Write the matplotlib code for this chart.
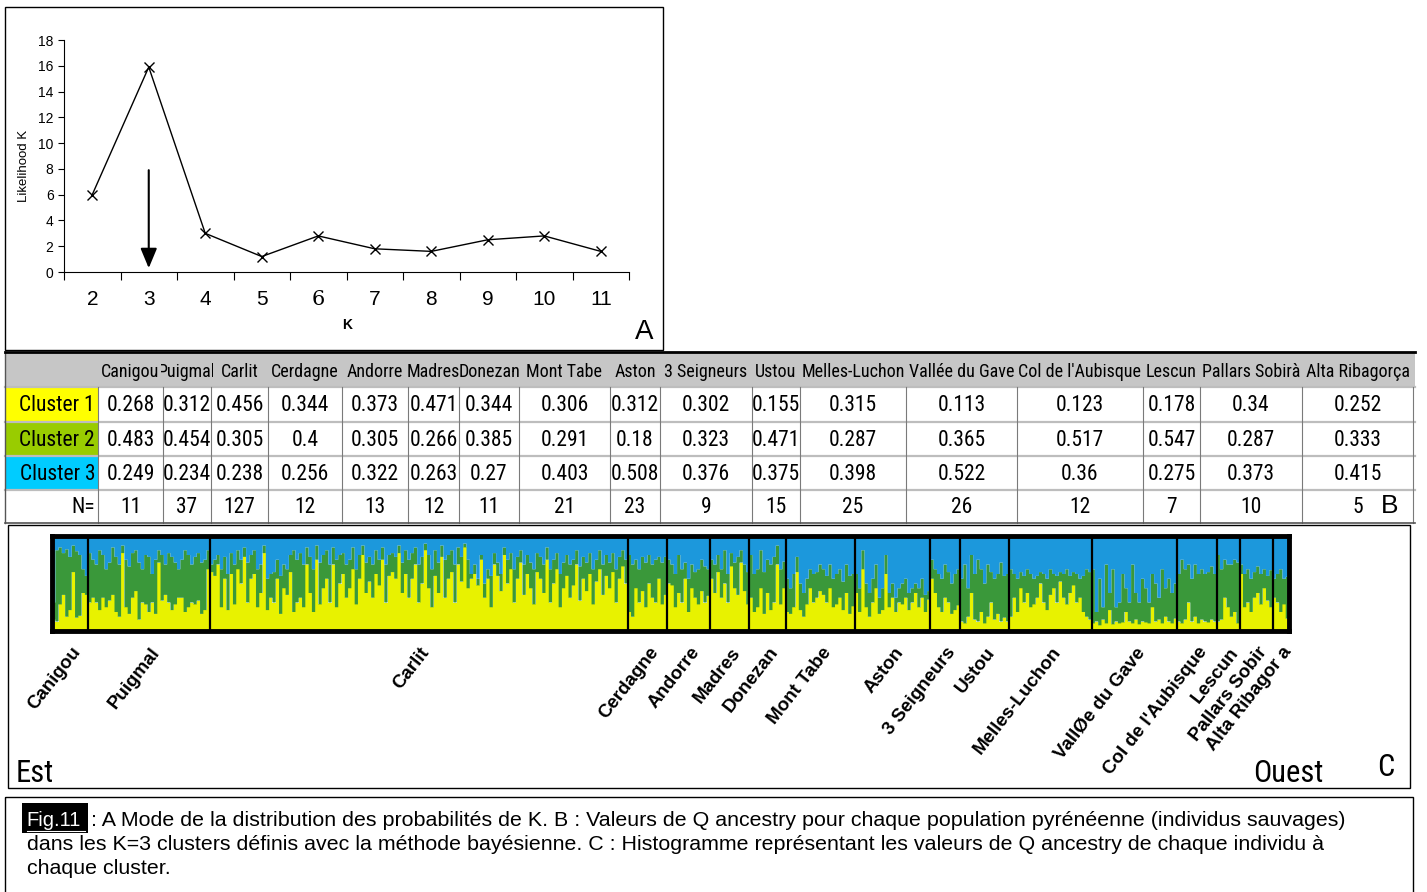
import numpy as np
import matplotlib
matplotlib.use('Agg')
import matplotlib.pyplot as plt
from matplotlib.patches import Rectangle
from matplotlib.transforms import Bbox
from matplotlib import font_manager
from matplotlib.font_manager import FontProperties

W, H = 1427, 892

##################
# A : likelihood of K
k_values = [2, 3, 4, 5, 6, 7, 8, 9, 10, 11]
likelihood = [6.0, 15.9, 3.0, 1.2, 2.8, 1.8, 1.6, 2.5, 2.8, 1.6]
best_k = 3

# B : mean Q per population
pops = ['Canigou', 'Puigmal', 'Carlit', 'Cerdagne', 'Andorre', 'Madres', 'Donezan',
        'Mont Tabe', 'Aston', '3 Seigneurs', 'Ustou', 'Melles-Luchon', 'Vallée du Gave',
        "Col de l'Aubisque", 'Lescun', 'Pallars Sobirà', 'Alta Ribagorça']
cluster1 = [0.268, 0.312, 0.456, 0.344, 0.373, 0.471, 0.344, 0.306, 0.312, 0.302,
            0.155, 0.315, 0.113, 0.123, 0.178, 0.34, 0.252]
cluster2 = [0.483, 0.454, 0.305, 0.4, 0.305, 0.266, 0.385, 0.291, 0.18, 0.323,
            0.471, 0.287, 0.365, 0.517, 0.547, 0.287, 0.333]
cluster3 = [0.249, 0.234, 0.238, 0.256, 0.322, 0.263, 0.27, 0.403, 0.508, 0.376,
            0.375, 0.398, 0.522, 0.36, 0.275, 0.373, 0.415]
n_ind = [11, 37, 127, 12, 13, 12, 11, 21, 23, 9, 15, 25, 26, 12, 7, 10, 5]

# C : individual Q (yellow = cluster 1, blue = cluster 3, green = the rest)
plot_labels = ['Canigou', 'Puigmal', 'Carlit', 'Cerdagne', 'Andorre', 'Madres', 'Donezan',
               'Mont Tabe', 'Aston', '3 Seigneurs', 'Ustou', 'Melles-Luchon', 'VallØe du Gave',
               "Col de l'Aubisque", 'Lescun', 'Pallars Sobir', 'Alta Ribagor a']
q1_ind = [
    [0.12, 0.10, 0.28, 0.38, 0.15, 0.22, 0.62, 0.14, 0.16, 0.40, 0.38],
    [0.30, 0.35, 0.30, 0.22, 0.35, 0.25, 0.32, 0.38, 0.20, 0.15, 0.82, 0.25, 0.18, 0.35, 0.42,
     0.12, 0.30, 0.28, 0.20, 0.30, 0.18, 0.72, 0.32, 0.38, 0.30, 0.22, 0.28, 0.35, 0.35, 0.20,
     0.25, 0.30, 0.28, 0.32, 0.18, 0.22, 0.65],
    [0.62, 0.58, 0.70, 0.25, 0.55, 0.22, 0.60, 0.28, 0.65, 0.50,
     0.78, 0.30, 0.55, 0.60, 0.25, 0.40, 0.82, 0.22, 0.35, 0.30,
     0.55, 0.18, 0.45, 0.38, 0.62, 0.20, 0.30, 0.35, 0.25, 0.70,
     0.40, 0.20, 0.75, 0.28, 0.45, 0.55, 0.30, 0.70, 0.25, 0.50,
     0.60, 0.35, 0.45, 0.65, 0.28, 0.55, 0.80, 0.40, 0.52, 0.35,
     0.60, 0.48, 0.75, 0.30, 0.58, 0.62, 0.55, 0.82, 0.40, 0.60,
     0.35, 0.55, 0.70, 0.30, 0.50, 0.85, 0.45, 0.25, 0.58, 0.40,
     0.78, 0.35, 0.55, 0.62, 0.30, 0.70, 0.52, 0.88, 0.45, 0.55,
     0.60, 0.48, 0.75, 0.35, 0.55, 0.25, 0.70, 0.58, 0.42, 0.80,
     0.50, 0.65, 0.30, 0.55, 0.72, 0.38, 0.60, 0.45, 0.28, 0.62,
     0.55, 0.40, 0.75, 0.30, 0.50, 0.65, 0.25, 0.45, 0.58, 0.35,
     0.48, 0.70, 0.32, 0.55, 0.42, 0.60, 0.28, 0.52, 0.65, 0.38,
     0.58, 0.45, 0.62, 0.30, 0.55, 0.68, 0.50],
    [0.20, 0.15, 0.45, 0.30, 0.42, 0.25, 0.50, 0.35, 0.30, 0.55, 0.28, 0.38],
    [0.50, 0.48, 0.25, 0.40, 0.30, 0.55, 0.20, 0.45, 0.35, 0.28, 0.42, 0.30, 0.37],
    [0.55, 0.40, 0.62, 0.35, 0.50, 0.30, 0.68, 0.45, 0.38, 0.72, 0.42, 0.28],
    [0.35, 0.20, 0.25, 0.45, 0.18, 0.40, 0.22, 0.30, 0.70, 0.28, 0.45],
    [0.20, 0.18, 0.25, 0.62, 0.22, 0.15, 0.28, 0.45, 0.30, 0.35, 0.42, 0.38, 0.30, 0.45,
     0.25, 0.28, 0.35, 0.22, 0.40, 0.18, 0.26],
    [0.40, 0.20, 0.65, 0.25, 0.15, 0.30, 0.45, 0.18, 0.22, 0.60, 0.25, 0.35, 0.20, 0.30,
     0.28, 0.35, 0.22, 0.30, 0.40, 0.25, 0.35, 0.20, 0.33],
    [0.55, 0.40, 0.25, 0.20, 0.35, 0.30, 0.18, 0.22, 0.27],
    [0.10, 0.08, 0.15, 0.40, 0.12, 0.10, 0.20, 0.08, 0.15, 0.30, 0.12, 0.18, 0.10, 0.14, 0.10],
    [0.15, 0.35, 0.20, 0.45, 0.30, 0.40, 0.25, 0.28, 0.35, 0.50, 0.30, 0.22, 0.38, 0.45,
     0.30, 0.52, 0.35, 0.28, 0.40, 0.48, 0.30, 0.35, 0.20, 0.15, 0.12],
    [0.08, 0.10, 0.06, 0.12, 0.08, 0.22, 0.07, 0.10, 0.08, 0.09, 0.20, 0.10, 0.08, 0.12,
     0.07, 0.10, 0.09, 0.08, 0.25, 0.10, 0.12, 0.08, 0.15, 0.10, 0.08, 0.13],
    [0.10, 0.08, 0.12, 0.30, 0.10, 0.15, 0.08, 0.12, 0.10, 0.09, 0.12, 0.10],
    [0.10, 0.12, 0.35, 0.25, 0.15, 0.20, 0.08],
    [0.60, 0.25, 0.30, 0.20, 0.35, 0.40, 0.28, 0.45, 0.32, 0.25],
    [0.35, 0.30, 0.20, 0.28, 0.13],
]
q3_ind = [
    [0.70, 0.15, 0.12, 0.18, 0.14, 0.22, 0.10, 0.16, 0.20, 0.35, 0.42],
    [0.18, 0.25, 0.30, 0.15, 0.20, 0.35, 0.28, 0.12, 0.22, 0.30, 0.10, 0.25, 0.32, 0.18, 0.15,
     0.28, 0.35, 0.20, 0.22, 0.40, 0.25, 0.15, 0.20, 0.30, 0.18, 0.22, 0.28, 0.35, 0.25, 0.15,
     0.20, 0.30, 0.22, 0.18, 0.28, 0.25, 0.15],
    [0.30, 0.25, 0.20, 0.35, 0.22, 0.40, 0.18, 0.30, 0.15, 0.25,
     0.12, 0.28, 0.20, 0.15, 0.35, 0.30, 0.10, 0.45, 0.40, 0.38,
     0.25, 0.42, 0.30, 0.35, 0.20, 0.15, 0.25, 0.18, 0.30, 0.12,
     0.22, 0.35, 0.10, 0.28, 0.20, 0.15, 0.30, 0.12, 0.25, 0.20,
     0.18, 0.30, 0.25, 0.12, 0.35, 0.20, 0.10, 0.28, 0.22, 0.30,
     0.15, 0.25, 0.12, 0.30, 0.20, 0.18, 0.22, 0.10, 0.28, 0.15,
     0.25, 0.18, 0.12, 0.30, 0.22, 0.08, 0.20, 0.35, 0.15, 0.28,
     0.10, 0.25, 0.20, 0.15, 0.30, 0.12, 0.22, 0.08, 0.25, 0.40,
     0.30, 0.45, 0.20, 0.50, 0.35, 0.42, 0.18, 0.28, 0.40, 0.12,
     0.25, 0.18, 0.35, 0.22, 0.15, 0.30, 0.20, 0.28, 0.35, 0.18,
     0.22, 0.30, 0.12, 0.35, 0.25, 0.18, 0.40, 0.28, 0.20, 0.30,
     0.25, 0.15, 0.32, 0.22, 0.28, 0.18, 0.35, 0.25, 0.15, 0.30,
     0.20, 0.28, 0.18, 0.35, 0.22, 0.15, 0.25],
    [0.20, 0.30, 0.25, 0.35, 0.22, 0.28, 0.20, 0.30, 0.25, 0.22, 0.28, 0.22],
    [0.25, 0.30, 0.40, 0.20, 0.35, 0.28, 0.45, 0.30, 0.38, 0.35, 0.25, 0.32, 0.35],
    [0.25, 0.30, 0.20, 0.35, 0.15, 0.40, 0.18, 0.28, 0.22, 0.15, 0.30, 0.38],
    [0.20, 0.40, 0.35, 0.15, 0.38, 0.25, 0.30, 0.22, 0.10, 0.35, 0.27],
    [0.45, 0.55, 0.40, 0.22, 0.50, 0.60, 0.45, 0.35, 0.40, 0.38, 0.30, 0.35, 0.42, 0.30,
     0.45, 0.40, 0.35, 0.48, 0.30, 0.42, 0.40],
    [0.40, 0.55, 0.15, 0.50, 0.60, 0.45, 0.30, 0.65, 0.55, 0.20, 0.60, 0.50, 0.65, 0.55,
     0.50, 0.45, 0.60, 0.55, 0.50, 0.55, 0.45, 0.62, 0.58],
    [0.25, 0.35, 0.40, 0.45, 0.30, 0.38, 0.50, 0.40, 0.35],
    [0.45, 0.30, 0.55, 0.20, 0.40, 0.25, 0.35, 0.50, 0.30, 0.38, 0.45, 0.40, 0.28, 0.42, 0.40],
    [0.35, 0.40, 0.45, 0.38, 0.42, 0.35, 0.40, 0.45, 0.42, 0.38, 0.40, 0.45, 0.35, 0.40,
     0.42, 0.38, 0.40, 0.35, 0.42, 0.38, 0.40, 0.45, 0.42, 0.35, 0.38],
    [0.35, 0.80, 0.45, 0.75, 0.30, 0.60, 0.35, 0.75, 0.70, 0.40, 0.55, 0.70, 0.30, 0.60,
     0.70, 0.45, 0.55, 0.70, 0.40, 0.50, 0.65, 0.35, 0.55, 0.45, 0.60, 0.50],
    [0.40, 0.25, 0.35, 0.30, 0.45, 0.30, 0.40, 0.35, 0.40, 0.38, 0.32, 0.40],
    [0.20, 0.35, 0.25, 0.30, 0.30, 0.25, 0.28],
    [0.30, 0.40, 0.35, 0.45, 0.38, 0.32, 0.40, 0.35, 0.42, 0.36],
    [0.45, 0.40, 0.35, 0.45, 0.43],
]

caption_lines = [
    ': A Mode de la distribution des probabilités de K. B : Valeurs de Q ancestry pour chaque population pyrénéenne (individus sauvages)',
    'dans les K=3 clusters définis avec la méthode bayésienne. C : Histogramme représentant les valeurs de Q ancestry de chaque individu à',
    'chaque cluster.',
]

##################
# fonts : look for a narrow / condensed face for the table (Arial Narrow look)
names = {f.name for f in font_manager.fontManager.ttflist}
SANS = 'Liberation Sans' if 'Liberation Sans' in names else 'DejaVu Sans'


def pick_narrow():
    good = []
    for f in font_manager.fontManager.ttflist:
        cond = ('Narrow' in f.name or 'Condensed' in f.name
                or str(f.stretch) in ('condensed', 'semi-condensed', 'extra-condensed'))
        if cond and f.style == 'normal' and f.weight in (400, 'normal', 'regular', 'book'):
            rank = 0 if 'Liberation' in f.name else 1 if 'Roboto' in f.name else 2
            good.append((rank, f.fname))
    if good:
        good.sort()
        return FontProperties(fname=good[0][1]), 1.0
    return FontProperties(family=SANS), 0.8


NARROW, nscale = pick_narrow()

cl_colors = ['#FFFF00', '#99CC00', '#00CCFF']
q_colors = ['#E8F200', '#3A983A', '#1C98DC']

fig = plt.figure(figsize=(W / 100, H / 100), dpi=100)

# overlay axes in pixel units (y down)
ax0 = fig.add_axes([0, 0, 1, 1])
ax0.set_xlim(0, W)
ax0.set_ylim(H, 0)
ax0.axis('off')


def px_rect(left, top, w, h):
    return [left / W, 1 - (top + h) / H, w / W, h / H]


def clipbox(x0, y0, x1, y1):
    pts = ax0.transData.transform([[x0, y0], [x1, y1]])
    return Bbox.from_extents(pts[:, 0].min(), pts[:, 1].min(), pts[:, 0].max(), pts[:, 1].max())


def ntext(x, y, s, size, **kw):
    fp = NARROW.copy()
    fp.set_size(size * nscale)
    return ax0.text(x, y, s, fontproperties=fp, **kw)


##################
# panel A
ax0.add_patch(Rectangle((5, 7), 658, 343, fill=False, ec='black', lw=1))
axA = fig.add_axes(px_rect(64, 40, 565, 232))
xk = np.arange(len(k_values))
axA.plot(xk, likelihood, color='black', lw=1, marker='x', ms=7, mew=1)
axA.set_xlim(-0.5, len(k_values) - 0.5)
axA.set_ylim(0, 18)
axA.set_yticks(np.arange(0, 19, 2))
axA.set_xticks(xk)
axA.set_xticklabels([str(k) for k in k_values], fontsize=15, family=SANS)
axA.set_xticks(np.arange(-0.5, len(k_values)), minor=True)
axA.tick_params(axis='x', which='major', length=0, pad=13)
axA.tick_params(axis='x', which='minor', length=6, width=0.8)
axA.tick_params(axis='y', labelsize=10, length=4, width=0.8)
for t in axA.get_yticklabels():
    t.set_family(SANS)
axA.get_xticklabels()[k_values.index(6)].set_family('DejaVu Serif')
for s in ['top', 'right']:
    axA.spines[s].set_visible(False)
for s in ['left', 'bottom']:
    axA.spines[s].set_linewidth(0.8)
ib = k_values.index(best_k)
axA.annotate('', xy=(ib, 0.3), xytext=(ib, 7.9),
             arrowprops=dict(arrowstyle='-|>,head_length=1.2,head_width=0.5',
                             color='black', lw=1.5, shrinkA=0, shrinkB=0))
ax0.text(24, 166, 'Likelihood K', rotation=90, ha='center', va='center', fontsize=9.5, family=SANS)
ax0.text(347, 325, 'K', ha='center', va='center', fontsize=10, fontweight='bold', family=SANS)
ax0.text(644, 332, 'A', ha='center', va='center', fontsize=20, family=SANS)

##################
# panel B : table
col_edges = [5, 98, 163, 211, 268, 342, 408, 459, 519, 610, 660, 752, 800, 906,
             1017, 1143, 1200, 1302, 1413]
row_edges = [352, 387, 422, 456, 490, 523]
ax0.add_patch(Rectangle((5, 352), 1410, 35, fc='#C6C6C6', ec='none'))
rows = [cluster1, cluster2, cluster3]
row_names = ['Cluster 1', 'Cluster 2', 'Cluster 3', 'N=']
for r in range(4):
    y0, y1 = row_edges[r + 1], row_edges[r + 2]
    yc = (y0 + y1) / 2 + 1
    if r < 3:
        ax0.add_patch(Rectangle((5, y0), col_edges[1] - 5, y1 - y0, fc=cl_colors[r], ec='none'))
    ntext(col_edges[1] - 3, yc, row_names[r], 15.5, ha='right', va='center')
    for c in range(len(pops)):
        xc = (col_edges[c + 1] + col_edges[c + 2]) / 2
        val = f'{rows[r][c]:g}' if r < 3 else str(n_ind[c])
        ntext(xc, yc, val, 15.5, ha='center', va='center')
ax0.text(1390, 506, 'B', ha='center', va='center', fontsize=19, family=SANS)
# header names: centred in their cell and cut near the cell edges, as in the spreadsheet
for c, name in enumerate(pops):
    x0, x1 = col_edges[c + 1], col_edges[c + 2]
    t = ntext((x0 + x1) / 2, 372, name, 13, ha='center', va='center')
    t.set_clip_box(clipbox(x0 - 2, 352, x1 + 2, 387))
    t.set_clip_on(True)
for y in row_edges[1:-1]:
    ax0.plot([5, 1415], [y, y], color='#BDBDBD', lw=1.6)
for x in col_edges[1:]:
    ax0.plot([x, x], [387, 523], color='#7A7A7A', lw=0.8)
ax0.plot([5, 5], [352, 523], color='#555555', lw=1)
ax0.plot([5, 1415], [523, 523], color='#555555', lw=1.2)
ax0.plot([5, 1415], [352, 352], color='black', lw=2)

##################
# panel C : individual Q ancestry
ax0.add_patch(Rectangle((8, 525), 1402, 263, fill=False, ec='black', lw=1))
q1 = np.concatenate([np.asarray(v) for v in q1_ind])
q3 = np.concatenate([np.asarray(v) for v in q3_ind])
ntot = len(q1)
edges = np.arange(ntot + 1)
axC = fig.add_axes(px_rect(52, 536, 1237, 95))
axC.stairs(q1, edges, baseline=0, fill=True, color=q_colors[0], lw=0)
axC.stairs(1 - q3, edges, baseline=q1, fill=True, color=q_colors[1], lw=0)
axC.stairs(np.ones(ntot), edges, baseline=1 - q3, fill=True, color=q_colors[2], lw=0)
bounds = np.cumsum(n_ind)
axC.vlines(bounds[:-1], 0, 1, color='black', lw=1.6)
axC.set_xlim(0, ntot)
axC.set_ylim(0, 1)
axC.set_xticks([])
axC.set_yticks([])
for s in axC.spines.values():
    s.set_linewidth(3.5)
starts = bounds - np.asarray(n_ind)
for lab, st, n in zip(plot_labels, starts, n_ind):
    xc = 52 + (st + n / 2) / ntot * 1237
    ax0.text(xc + 1, 644, lab, rotation=52, rotation_mode='anchor', ha='right', va='top',
             fontsize=13.5, fontweight='bold', family=SANS)
ntext(16, 774, 'Est', 22, ha='left', va='center')
ntext(1253, 774, 'Ouest', 22, ha='left', va='center')
ntext(1386, 768, 'C', 22, ha='center', va='center')

##################
# caption
ax0.add_patch(Rectangle((5, 797), 1408, 100, fill=False, ec='black', lw=1))
ax0.add_patch(Rectangle((22, 803), 66, 30, fc='black', ec='none'))
ax0.text(26, 821, 'Fig.11', ha='left', va='center', fontsize=14.5, color='white', family=SANS)
ax0.plot([27, 85], [831, 831], color='white', lw=0.8)
ax0.text(91, 821, caption_lines[0], ha='left', va='center', fontsize=15.4, family=SANS)
ax0.text(27, 845, caption_lines[1], ha='left', va='center', fontsize=15.4, family=SANS)
ax0.text(27, 869, caption_lines[2], ha='left', va='center', fontsize=15.4, family=SANS)

fig.savefig('out.png', dpi=100)
